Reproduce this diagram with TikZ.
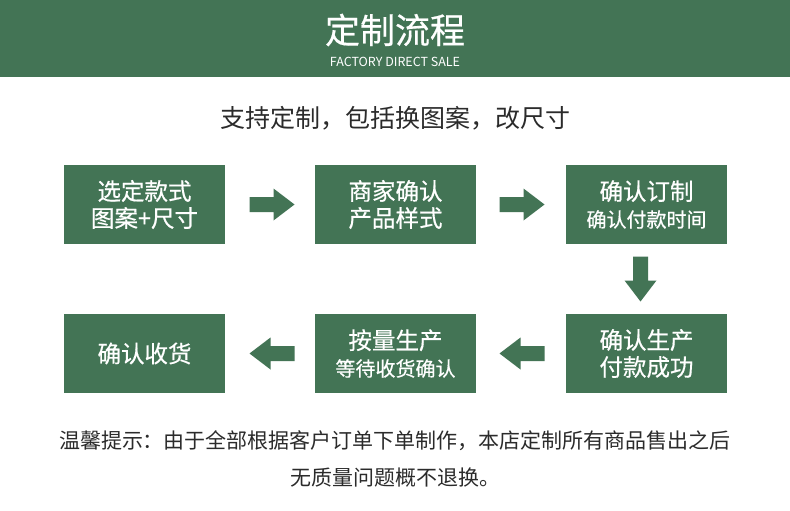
\documentclass[tikz,border=0pt]{standalone}
\usepackage{fontspec}
\setmainfont{Noto Sans CJK SC}
\newfontfamily\medfont[FakeBold=0.5]{Noto Sans CJK SC}
\usetikzlibrary{calc}
\definecolor{gr}{HTML}{437455}
\definecolor{txt}{HTML}{2B2B2B}
\newcommand\blockarrow[2]{\fill[gr,shift={(#1)},rotate=#2] (-22.5,-7.5) -- (1.5,-7.5) -- (1.5,-16) -- (22.5,0) -- (1.5,16) -- (1.5,7.5) -- (-22.5,7.5) -- cycle;}
\begin{document}
\begin{tikzpicture}[x=1pt,y=-1pt,
  stepbox/.style={fill=gr,minimum width=161pt,minimum height=79pt,inner sep=0pt,text=white,align=center,font=\medfont\fontsize{23.5}{27}\selectfont}]
\useasboundingbox (0,0) rectangle (790,511);
\fill[white] (0,0) rectangle (790,511);
\fill[gr] (0,0) rectangle (790,77);
\node[text=white,font=\medfont\fontsize{35}{40}\selectfont] (title) at (395,30) {定制流程};
\node[text=white,font=\fontsize{12.5}{14}\selectfont] (sub) at (395,62) {FACTORY DIRECT SALE};
\node[text=txt,font=\fontsize{25}{28}\selectfont] (head) at (395,118.5) {支持定制，包括换图案，改尺寸};

\node[stepbox] (b1) at (144.5,204.5) {选定款式\\图案+尺寸};
\node[stepbox] (b2) at (395.5,204.5) {商家确认\\产品样式};
\node[stepbox] (b3) at (646.5,204.5) {确认订制\\{\fontsize{20}{23}\selectfont 确认付款时间}};
\node[stepbox] (b6) at (646.5,353.5) {确认生产\\付款成功};
\node[stepbox] (b5) at (395.5,353.5) {按量生产\\{\fontsize{20}{23}\selectfont 等待收货确认}};
\node[stepbox] (b4) at (144.5,353.5) {确认收货};

\coordinate (a1) at ($(b1.east)!0.5!(b2.west)+(2,0)$);
\coordinate (a2) at ($(b2.east)!0.5!(b3.west)+(1,0)$);
\coordinate (a3) at ($(b3.south)!0.5!(b6.north)+(-6,0)$);
\coordinate (a4) at ($(b6.west)!0.5!(b5.east)+(1,0)$);
\coordinate (a5) at ($(b5.west)!0.5!(b4.east)+(2,0)$);
\blockarrow{a1}{0}
\blockarrow{a2}{0}
\blockarrow{a3}{-90}
\blockarrow{a4}{180}
\blockarrow{a5}{180}

\node[text=txt,font=\fontsize{21}{24}\selectfont] (n1) at (395,441) {温馨提示：由于全部根据客户订单下单制作，本店定制所有商品售出之后};
\node[text=txt,font=\fontsize{21}{24}\selectfont] (n2) at (395,478) {无质量问题概不退换。};
\end{tikzpicture}
\end{document}
